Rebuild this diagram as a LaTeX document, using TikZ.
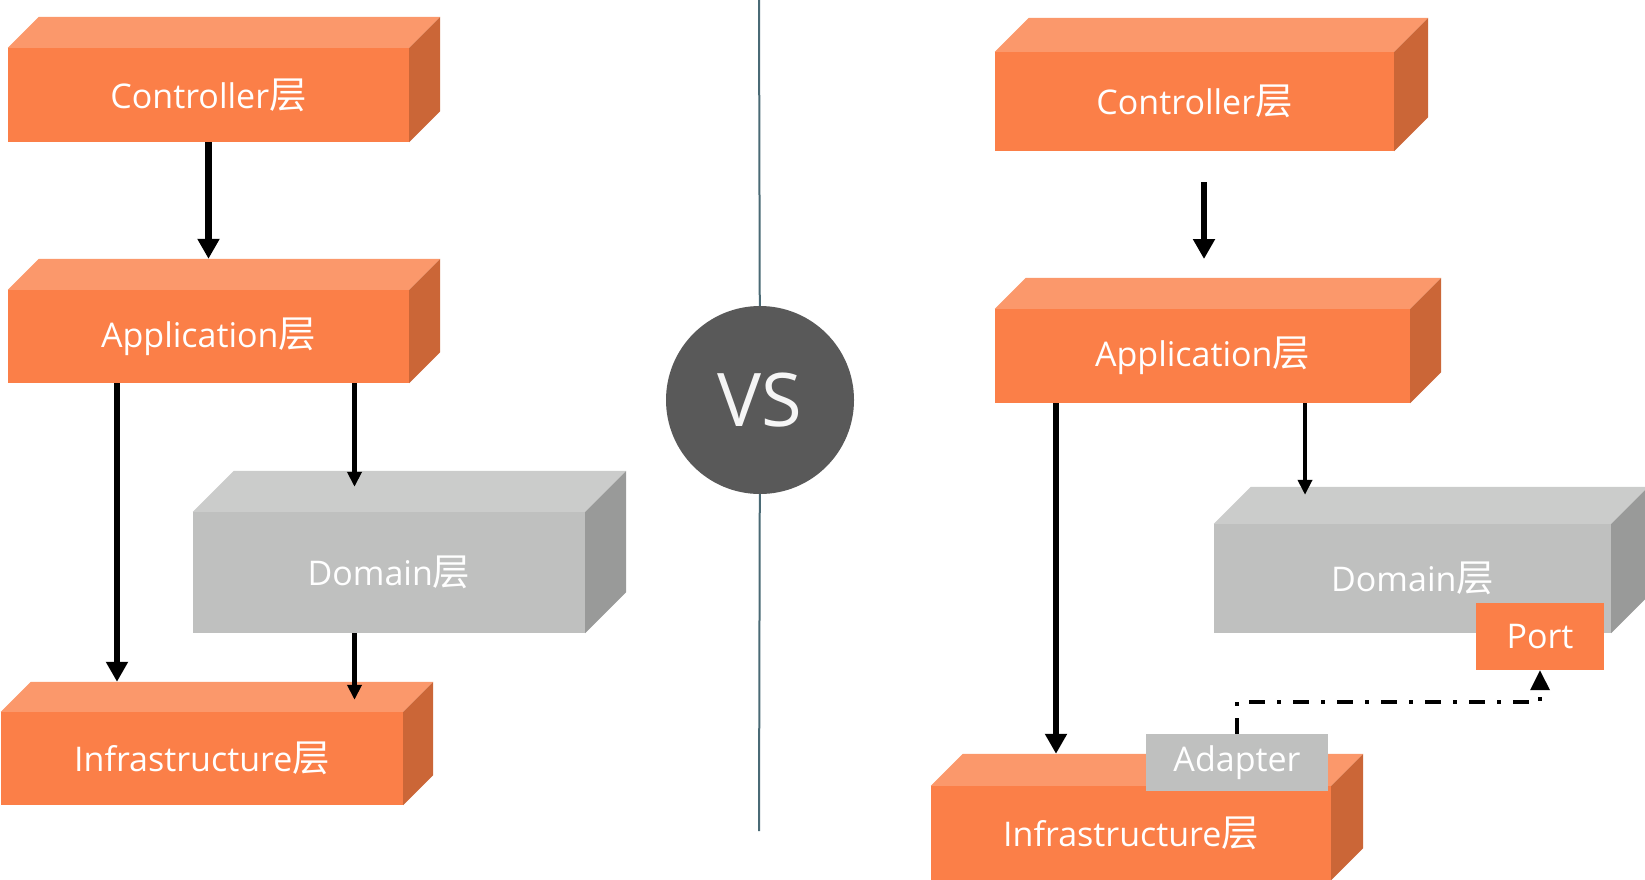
\documentclass[tikz,border=0pt]{standalone}
\usepackage{fontspec}
\setmainfont{Open Sans}
\newfontfamily\cjk[Scale=1.1]{Noto Sans CJK SC}
\usetikzlibrary{arrows.meta,calc}

\definecolor{orFront}{HTML}{FB7F48}
\definecolor{orTop}{HTML}{FB986B}
\definecolor{orSide}{HTML}{CB6637}
\definecolor{grFront}{HTML}{BFC0BF}
\definecolor{grTop}{HTML}{CBCCCB}
\definecolor{grSide}{HTML}{999A99}
\definecolor{divline}{HTML}{4A6A75}
\definecolor{vsgray}{HTML}{595959}

\newcommand{\ceng}[1]{#1{\cjk 层}}
% top and side faces behind a front node: name, depth, top colour, side colour
\newcommand{\slabfaces}[4]{%
  \fill[#3] (#1.north west) -- ([shift={(#2,-#2)}]#1.north west)
    -- ([shift={(#2,-#2)}]#1.north east) -- (#1.north east) -- cycle;
  \fill[#4] (#1.north east) -- ([shift={(#2,-#2)}]#1.north east)
    -- ([shift={(#2,-#2)}]#1.south east) -- (#1.south east) -- cycle;
  \coordinate (#1-back) at ([shift={(#2,-#2)}]#1.north west);
}

\tikzset{
  slab/.style={rectangle, inner sep=0pt, text=white, font=\fontsize{34}{40}\selectfont},
  orslab/.style={slab, fill=orFront},
  grslab/.style={slab, fill=grFront},
  fat/.style={line width=6.5pt, -{Triangle[width=21pt,length=20pt]}},
  slim/.style={line width=4.8pt, -{Triangle[width=14pt,length=15pt]}},
  portlink/.style={line width=3.5pt, dash pattern=on 16pt off 12pt on 4pt off 12pt,
    -{Triangle[width=19pt,length=20pt]}},
}

\begin{document}
\begin{tikzpicture}[x=1pt,y=-1pt]
  \useasboundingbox (0,0) rectangle (1645,879);

  \node[orslab, minimum width=401pt, minimum height=94pt] (cL) at (208.5,95) {\ceng{Controller}};
  \slabfaces{cL}{31}{orTop}{orSide}
  \node[orslab, minimum width=401pt, minimum height=93pt] (aL) at (208.5,336.5) {\ceng{Application}};
  \slabfaces{aL}{31}{orTop}{orSide}
  \node[grslab, minimum width=392pt, minimum height=121pt] (dL) at (389,572.5) {\ceng{Domain}};
  \slabfaces{dL}{41}{grTop}{grSide}
  \node[orslab, minimum width=402pt, minimum height=93pt] (iL) at (202,758.5) {\ceng{Infrastructure}};
  \slabfaces{iL}{30}{orTop}{orSide}

  \coordinate (aL-out1) at ([xshift=-91.5pt]aL.south);
  \coordinate (aL-out2) at ([xshift=146pt]aL.south);
  \coordinate (dL-out) at ([xshift=-34.5pt]dL.south);
  \draw[fat] (cL.south) -- (cL.south |- aL-back);
  \draw[fat] (aL-out1) -- (aL-out1 |- iL-back);
  \draw[slim] (aL-out2) -- ($(aL-out2 |- dL-back)+(0,16)$);
  \draw[slim] (dL-out) -- ($(dL-out |- iL-back)+(0,18)$);

  \node[circle, fill=vsgray, minimum size=188pt, inner sep=0pt, text=white!96!black,
    font=\fontsize{74}{80}\selectfont] (vs) at (760,400) {VS};
  \coordinate (divTop) at (759,0);
  \coordinate (divBot) at (759,831);
  \draw[divline, line width=2pt] (divTop) -- (vs);
  \draw[divline, line width=2pt] (vs) -- (divBot);

  \node[orslab, minimum width=399pt, minimum height=99pt] (cR) at (1194.5,101.5) {\ceng{Controller}};
  \slabfaces{cR}{34}{orTop}{orSide}
  \node[orslab, minimum width=415pt, minimum height=94pt] (aR) at (1202.5,356) {\ceng{Application}};
  \slabfaces{aR}{31}{orTop}{orSide}
  \node[grslab, minimum width=397pt, minimum height=109pt] (dR) at (1412.5,578.5) {\ceng{Domain}};
  \slabfaces{dR}{37}{grTop}{grSide}
  \node[orslab, minimum width=400pt, minimum height=94pt] (iR) at (1131,833) {\ceng{Infrastructure}};
  \slabfaces{iR}{32}{orTop}{orSide}
  \node[orslab, minimum width=128pt, minimum height=67pt] (port) at (1540,636.5) {Port};
  \node[grslab, minimum width=182pt, minimum height=57pt] (adapter) at (1237,762.5) {Adapter};

  \coordinate (gapTop) at (1204,182);
  \coordinate (gapBot) at (1204,259);
  \coordinate (aR-out1) at ([xshift=-146.5pt]aR.south);
  \coordinate (aR-out2) at ([xshift=102.5pt]aR.south);
  \draw[fat] (gapTop) -- (gapBot);
  \draw[fat] (aR-out1) -- (aR-out1 |- iR-back);
  \draw[slim] (aR-out2) -- ($(aR-out2 |- dR-back)+(0,8)$);
  \draw[portlink] (adapter.north) -- ++(0,-32) -| (port.south);
\end{tikzpicture}
\end{document}
